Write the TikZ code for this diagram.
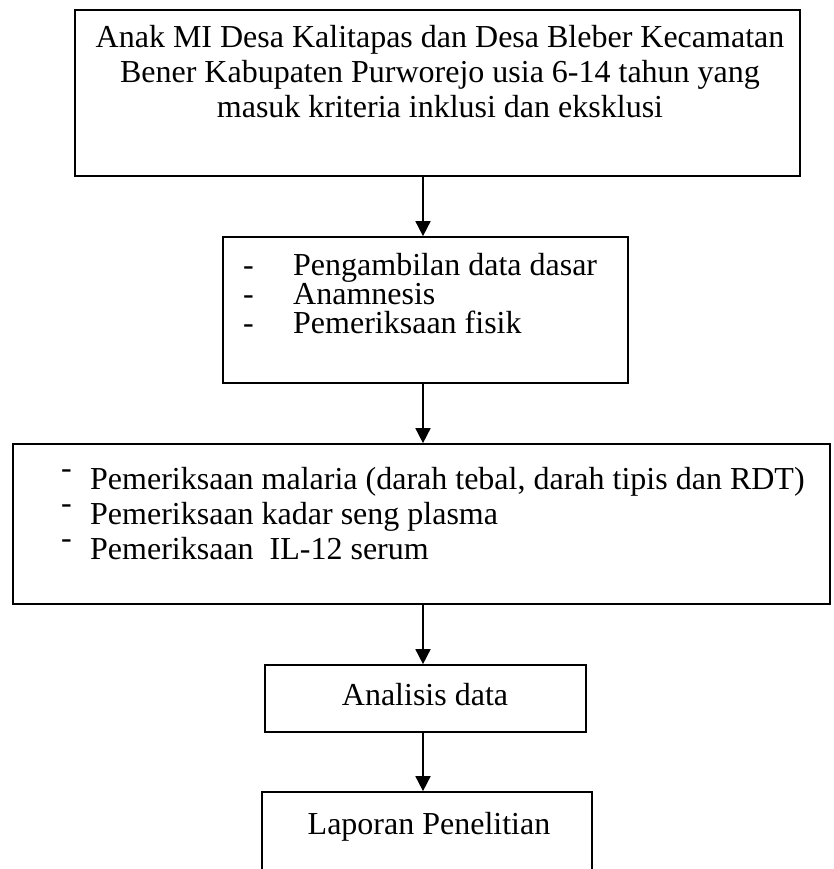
\documentclass[tikz,border=0pt]{standalone}
\usepackage{fontspec}
\setmainfont{Liberation Serif}
\usetikzlibrary{arrows.meta}

\begin{document}
\begin{tikzpicture}[x=1pt, y=-1pt,
    box/.style={draw=black, line width=1.7pt, inner sep=0pt},
    txt/.style={inner sep=0pt},
    arr/.style={line width=1.7pt, -{Triangle[length=15pt,width=15pt]}}]
            \clip (0,0) rectangle (833,869);

            \node[box, minimum width=725pt, minimum height=166pt] (b1) at (437.5,93) {};
            \node[box, minimum width=405pt, minimum height=146pt] (b2) at (425.5,310) {};
            \node[box, minimum width=817pt, minimum height=160pt] (b3) at (421.5,524) {};
            \node[box, minimum width=321pt, minimum height=67pt] (b4) at (425.5,698.5) {};
            \node[box, minimum width=330pt, minimum height=200pt] (b5) at (427,892) {};

            \node[txt, anchor=north, align=center, font=\fontsize{32}{35}\selectfont] (t1) at (440,25)
                {Anak MI Desa Kalitapas dan Desa Bleber Kecamatan\\
                 Bener Kabupaten Purworejo usia 6-14 tahun yang\\
                 masuk kriteria inklusi dan eksklusi};
            \node[txt, anchor=north west, align=left, font=\fontsize{32}{29}\selectfont] (t2) at (243,253)
                {\makebox[50pt][l]{-}Pengambilan data dasar\\
                 \makebox[50pt][l]{-}Anamnesis\\
                 \makebox[50pt][l]{-}Pemeriksaan fisik};
            \node[txt, anchor=north west, align=left, font=\fontsize{32}{35}\selectfont] (t3) at (61,467)
                {\makebox[29pt][l]{\raisebox{0.33em}{-}}Pemeriksaan malaria (darah tebal, darah tipis dan RDT)\\
                 \makebox[29pt][l]{\raisebox{0.33em}{-}}Pemeriksaan kadar seng plasma\\
                 \makebox[29pt][l]{\raisebox{0.33em}{-}}Pemeriksaan\ \ IL-12 serum};
            \node[txt, anchor=base, font=\fontsize{32}{37}\selectfont] (t4) at (425,705) {Analisis data};
            \node[txt, anchor=base, font=\fontsize{32}{37}\selectfont] (t5) at (429,834) {Laporan Penelitian};

            % panah antar kotak
            \coordinate (ax) at (423,0);
            \draw[arr] (b1.south -| ax) -- (b2.north -| ax);
            \draw[arr] (b2.south -| ax) -- (b3.north -| ax);
            \draw[arr] (b3.south -| ax) -- (b4.north -| ax);
            \draw[arr] (b4.south -| ax) -- (b5.north -| ax);
        \end{tikzpicture}
\end{document}
